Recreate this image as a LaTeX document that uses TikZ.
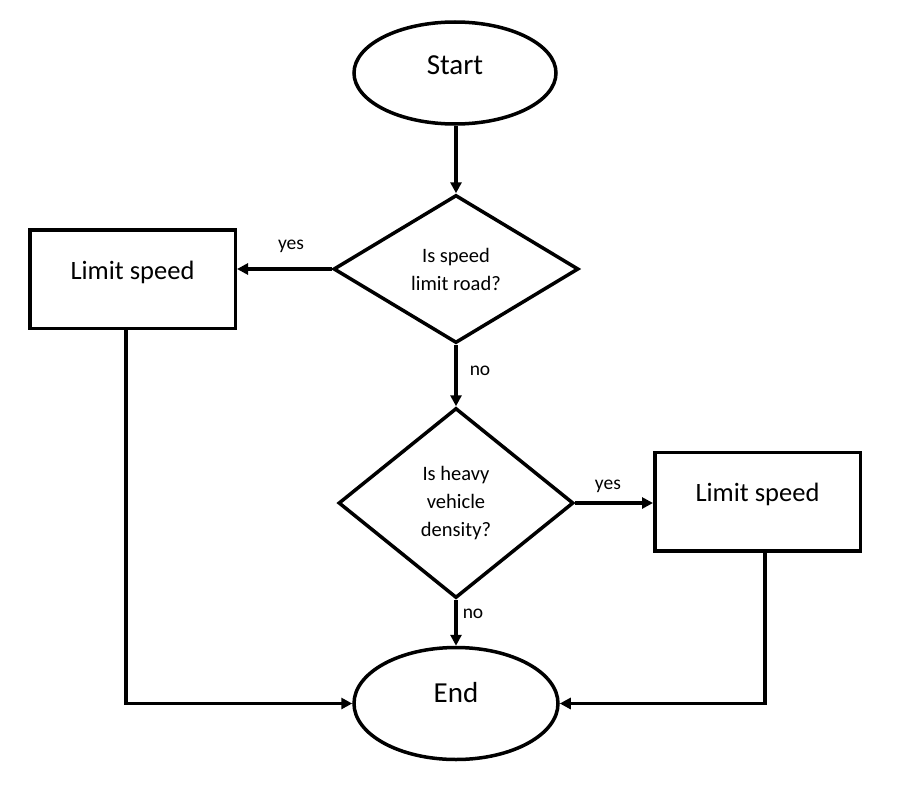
\documentclass[tikz,border=0pt]{standalone}
\usepackage{fontspec}
\setmainfont{Carlito}
\usetikzlibrary{shapes.geometric,arrows.meta,calc}
\begin{document}
\begin{tikzpicture}[x=1pt,y=-1pt,
  every node/.style={inner sep=0pt},
  lw/.style={line width=3.5pt},
  termbox/.style={lw, draw, ellipse, minimum width=202pt, minimum height=102pt, font=\fontsize{29}{34}\selectfont},
  procbox/.style={lw, draw, rectangle, minimum width=205.5pt, minimum height=98.5pt, font=\fontsize{26.5}{31}\selectfont},
  decbox/.style={lw, draw, diamond, align=center, font=\fontsize{20.5}{28}\selectfont},
  lbl/.style={font=\fontsize{19.5}{23}\selectfont},
  conn/.style={lw, -{Triangle[length=11pt,width=11pt]}}
]
\useasboundingbox (0,0) rectangle (907,792);
\fill[white] (0,0) rectangle (907,792);

\node[termbox, label={[font=\fontsize{29}{34}\selectfont, yshift=8pt]center:Start}] (start) at (455,73) {};
\node[decbox, aspect=1.64, minimum width=245pt, minimum height=148pt] (d1) at (456,269) {Is speed\\limit road?};
\node[procbox, label={[font=\fontsize{26.5}{31}\selectfont, yshift=7pt]center:Limit speed}] (box1) at (132.5,279) {};
\node[decbox, aspect=1.23, minimum width=235pt, minimum height=190pt] (d2) at (456,503) {Is heavy\\vehicle\\density?};
\node[procbox, label={[font=\fontsize{26.5}{31}\selectfont, yshift=7pt]center:Limit speed}] (box2) at (757.5,501.5) {};
\node[termbox, minimum width=204pt, minimum height=112pt, label={[font=\fontsize{29}{34}\selectfont, yshift=10.5pt]center:End}] (end) at (456,703.5) {};

\draw[conn] (start.south -| d1.north) -- (d1.north);
\draw[conn] (d1.west) -- node[lbl, pos=0.43, above=15pt] {yes} (d1.west -| box1.east);
\draw[conn] (d1.south) -- node[lbl, pos=0.42, right=12pt] {no} (d2.north);
\draw[conn] (d2.east) -- node[lbl, pos=0.42, above=9pt] {yes} (d2.east -| box2.west);
\draw[conn] (d2.south) -- node[lbl, pos=0.3, right=5pt] {no} (end.north);
\draw[conn] ($(box1.south)+(-6.5,0)$) |- (end.west);
\draw[conn] ($(box2.south)+(7.5,0)$) |- (end.east);
\end{tikzpicture}
\end{document}
